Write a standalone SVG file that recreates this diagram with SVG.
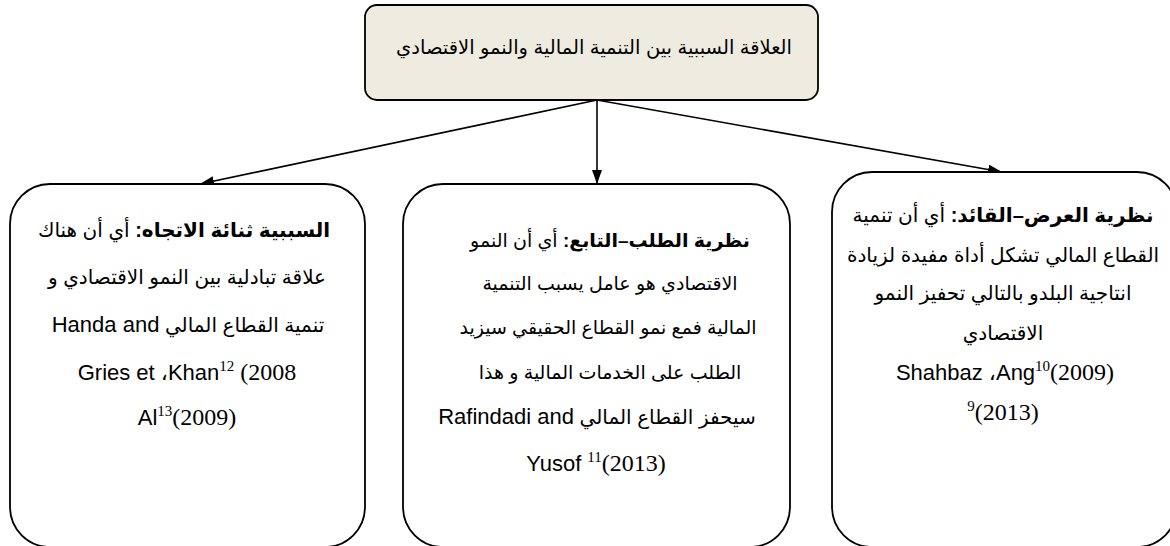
<svg xmlns="http://www.w3.org/2000/svg" width="1170" height="546" viewBox="0 0 1170 546">
<style>
.box{fill:#ffffff;stroke:#000;stroke-width:1.8}
.top{fill:#EEECE1;stroke:#000;stroke-width:1.8}
.t{font-family:'Liberation Sans','DejaVu Sans',sans-serif;font-size:20px;fill:#000}
.m{font-size:19px}
.l{font-size:22px}
.n{font-family:'Liberation Serif','DejaVu Serif',serif;font-size:24px}
.s{font-family:'Liberation Serif','DejaVu Serif',serif;font-size:15px}
.b{font-weight:bold}
.c{stroke:#000;stroke-width:1.6;fill:none}
</style>
<defs>
<marker id="ah" viewBox="0 0 14 10" refX="14" refY="5" markerWidth="14" markerHeight="10" markerUnits="userSpaceOnUse" orient="auto">
<path d="M0,0 L14,5 L0,10 Z" fill="#000"/>
</marker>
</defs>
<g id="connectors">
<line class="c" x1="597" y1="100" x2="200" y2="184" marker-end="url(#ah)"/>
<line class="c" x1="597" y1="100" x2="597" y2="184" marker-end="url(#ah)"/>
<line class="c" x1="597" y1="100" x2="1002" y2="172" marker-end="url(#ah)"/>
</g>
<g id="root">
<rect class="top" x="365" y="5" width="453" height="95" rx="12"/>
<text class="t" x="594" y="54" text-anchor="middle" direction="rtl" style="font-size:19.5px">العلاقة السببية بين التنمية المالية والنمو الاقتصادي</text>
</g>
<g id="left">
<rect class="box" x="10" y="184" width="355" height="363" rx="40"/>
<text class="t" x="184" y="237" text-anchor="middle" direction="rtl"><tspan class="b">السببية ثنائة الاتجاه:</tspan> أي أن هناك</text>
<text class="t" x="187" y="284" text-anchor="middle" direction="rtl">علاقة تبادلية بين النمو الاقتصادي و</text>
<text class="t" x="188" y="332" text-anchor="middle" direction="rtl">تنمية القطاع المالي  <tspan class="l">Handa and</tspan></text>
<text class="t l" x="187" y="380" text-anchor="middle" direction="ltr">Gries et  ،Khan<tspan class="s" dy="-9">12</tspan><tspan class="n" dy="9"> (2008</tspan></text>
<text class="t l" x="187" y="425" text-anchor="middle" direction="ltr">Al<tspan class="s" dy="-9">13</tspan><tspan class="n" dy="9">(2009)</tspan></text>
</g>
<g id="middle">
<rect class="box" x="403" y="184" width="387" height="363" rx="40"/>
<text class="t m" x="610" y="247" text-anchor="middle" direction="rtl"><tspan class="b">نظرية الطلب–التابع:</tspan> أي أن النمو</text>
<text class="t m" x="610" y="290" text-anchor="middle" direction="rtl">الاقتصادي هو عامل يسبب التنمية</text>
<text class="t m" x="608" y="334" text-anchor="middle" direction="rtl">المالية فمع نمو القطاع الحقيقي سيزيد</text>
<text class="t m" x="610" y="379" text-anchor="middle" direction="rtl">الطلب على الخدمات المالية و هذا</text>
<text class="t" x="597" y="424" text-anchor="middle" direction="rtl">سيحفز القطاع المالي  <tspan class="l">Rafindadi and</tspan></text>
<text class="t l" x="596" y="471" text-anchor="middle" direction="ltr">Yusof <tspan class="s" dy="-9">11</tspan><tspan class="n" dy="9">(2013)</tspan></text>
</g>
<g id="right">
<rect class="box" x="832" y="172" width="345" height="375" rx="40"/>
<text class="t" x="1003" y="222" text-anchor="middle" direction="rtl"><tspan class="b">نظرية العرض–القائد:</tspan> أي أن تنمية</text>
<text class="t" x="1003" y="262" text-anchor="middle" direction="rtl">القطاع المالي تشكل أداة مفيدة لزيادة</text>
<text class="t" x="1003" y="300" text-anchor="middle" direction="rtl">انتاجية البلدو بالتالي تحفيز النمو</text>
<text class="t" x="1003" y="340" text-anchor="middle" direction="rtl">الاقتصادي</text>
<text class="t l" x="1005" y="380" text-anchor="middle" direction="ltr">Shahbaz ،Ang<tspan class="s" dy="-9">10</tspan><tspan class="n" dy="9">(2009)</tspan></text>
<text class="t" x="1003" y="420" text-anchor="middle" direction="ltr"><tspan class="s" dy="-9">9</tspan><tspan class="n" dy="9">(2013)</tspan></text>
</g>
</svg>
